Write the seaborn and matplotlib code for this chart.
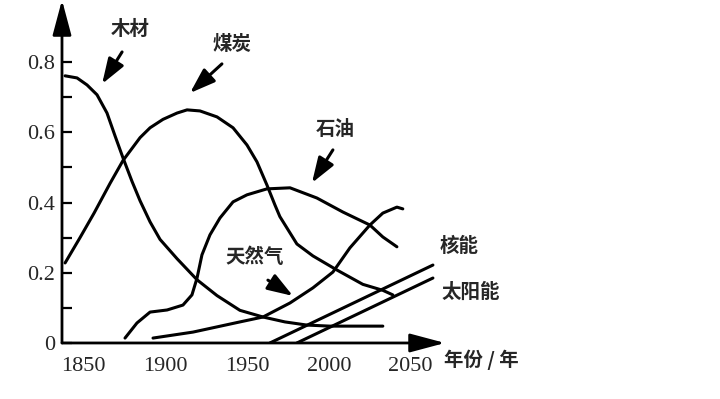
import pandas as pd
import seaborn as sns
import matplotlib.pyplot as plt

# share of each energy source in total consumption
wood_year = [1838.9, 1846.2, 1852.3, 1858.4, 1864.5, 1869.4, 1874.3, 1879.8, 1884.7,
             1890.8, 1896.9, 1907.3, 1919.5, 1931.7, 1945.7, 1959.8, 1973.2, 1986.6,
             2000.7, 2033.0]
wood_share = [0.761, 0.755, 0.735, 0.707, 0.655, 0.590, 0.527, 0.460, 0.405,
              0.345, 0.295, 0.240, 0.180, 0.135, 0.093, 0.074, 0.060, 0.051,
              0.048, 0.048]

coal_year = [1838.9, 1848.0, 1856.6, 1866.4, 1874.3, 1884.7, 1890.8, 1898.7, 1907.3,
             1913.4, 1921.3, 1931.7, 1941.5, 1950.0, 1956.1, 1962.2, 1967.1, 1970.1,
             1980.5, 1990.3, 2004.9, 2020.8, 2033.0, 2039.1]
coal_share = [0.228, 0.300, 0.370, 0.455, 0.520, 0.585, 0.613, 0.637, 0.655,
              0.664, 0.661, 0.644, 0.613, 0.564, 0.516, 0.450, 0.393, 0.360,
              0.282, 0.248, 0.208, 0.167, 0.150, 0.137]

oil_year = [1875.5, 1882.8, 1890.8, 1901.2, 1910.9, 1916.4, 1919.5, 1922.5, 1927.4,
            1933.5, 1941.5, 1950.0, 1962.2, 1976.3, 1992.7, 2008.6, 2025.1, 2033.0,
            2041.6]
oil_share = [0.014, 0.057, 0.088, 0.094, 0.108, 0.137, 0.185, 0.251, 0.308,
             0.356, 0.402, 0.422, 0.439, 0.442, 0.413, 0.373, 0.336, 0.302,
             0.274]

gas_year = [1892.6, 1917.0, 1945.7, 1959.8, 1976.3, 1990.3, 2002.5, 2012.9, 2025.1,
            2033.0, 2041.6, 2045.2]
gas_share = [0.014, 0.031, 0.060, 0.074, 0.114, 0.157, 0.202, 0.271, 0.336,
             0.370, 0.387, 0.382]

nuclear_year = [1964.0, 2063.6]
nuclear_share = [0.0, 0.222]

solar_year = [1980.5, 2063.6]
solar_share = [0.0, 0.185]

x_ticks = [1850, 1900, 1950, 2000, 2050]
y_ticks = [0, 0.2, 0.4, 0.6, 0.8]
y_tick_labels = ['0', '0.2', '0.4', '0.6', '0.8']

sns.set_style("white")
plt.rcParams['font.family'] = ['Noto Sans CJK SC', 'DejaVu Sans']
num_font = 'Liberation Serif'

fig = plt.figure(figsize=(7.2, 3.99), dpi=100)
ax = fig.add_axes([0.0861, 0.1404, 0.532, 0.8596])

series = [(wood_year, wood_share), (coal_year, coal_share), (oil_year, oil_share),
          (gas_year, gas_share), (nuclear_year, nuclear_share), (solar_year, solar_share)]
for yrs, share in series:
    df = pd.DataFrame({'year': yrs, 'share': share})
    sns.lineplot(data=df, x='year', y='share', ax=ax, color='black', lw=2.2,
                 estimator=None, sort=False)

ax.set_xlim(1837, 2071)
ax.set_ylim(0, 0.977)
ax.set_xlabel('')
ax.set_ylabel('')
for s in ax.spines.values():
    s.set_visible(False)

# axes drawn as arrows
head = dict(arrowstyle='-|>,head_length=1.2,head_width=0.32', lw=2, color='black',
            mutation_scale=18, shrinkA=0, shrinkB=0)
ax.annotate('', xy=(0, 1.0), xytext=(0, 0), xycoords='axes fraction',
            textcoords='axes fraction', arrowprops=head, annotation_clip=False)
ax.annotate('', xy=(1.0, 0), xytext=(0, 0), xycoords='axes fraction',
            textcoords='axes fraction', arrowprops=head, annotation_clip=False)

ax.set_yticks(y_ticks)
ax.set_yticklabels(y_tick_labels, fontfamily=num_font, fontsize=16)
ax.set_yticks([0.1, 0.3, 0.5, 0.7], minor=True)
ax.tick_params(axis='y', which='both', direction='in', length=7, width=1.6,
               color='black', left=True, pad=5)

ax.set_xticks(x_ticks)
ax.set_xticklabels([str(v) for v in x_ticks], fontfamily=num_font, fontsize=16)
ax.tick_params(axis='x', which='major', length=0, pad=10)
ax.set_xticks([1950, 2000], minor=True)
ax.tick_params(axis='x', which='minor', direction='in', length=10, width=1.3,
               color='black', bottom=True)

# labels with pointer arrows
ptr = dict(arrowstyle='-|>,head_length=1.1,head_width=0.38', lw=2.2, color='black',
           mutation_scale=14, shrinkA=0, shrinkB=0)
lab = dict(fontsize=14, fontweight='bold', ha='center', va='center')

ax.text(1878.6, 0.892, '木材', **lab)
ax.annotate('', xy=(1861.5, 0.738), xytext=(1873.7, 0.829), arrowprops=ptr)
ax.text(1940.8, 0.849, '煤炭', **lab)
ax.annotate('', xy=(1915.2, 0.712), xytext=(1934.7, 0.795), arrowprops=ptr)
ax.text(2003.7, 0.607, '石油', **lab)
ax.annotate('', xy=(1989.7, 0.456), xytext=(2002.5, 0.550), arrowprops=ptr)
ax.text(1954.9, 0.245, '天然气', **lab)
ax.annotate('', xy=(1978.1, 0.134), xytext=(1962.8, 0.179), arrowprops=ptr)
ax.text(2079.4, 0.276, '核能', clip_on=False, **lab)
ax.text(2086.8, 0.145, '太阳能', clip_on=False, **lab)
ax.text(2093.5, -0.048, '年份 / 年', clip_on=False, **lab)

fig.savefig('out.png', dpi=100, facecolor='white')
